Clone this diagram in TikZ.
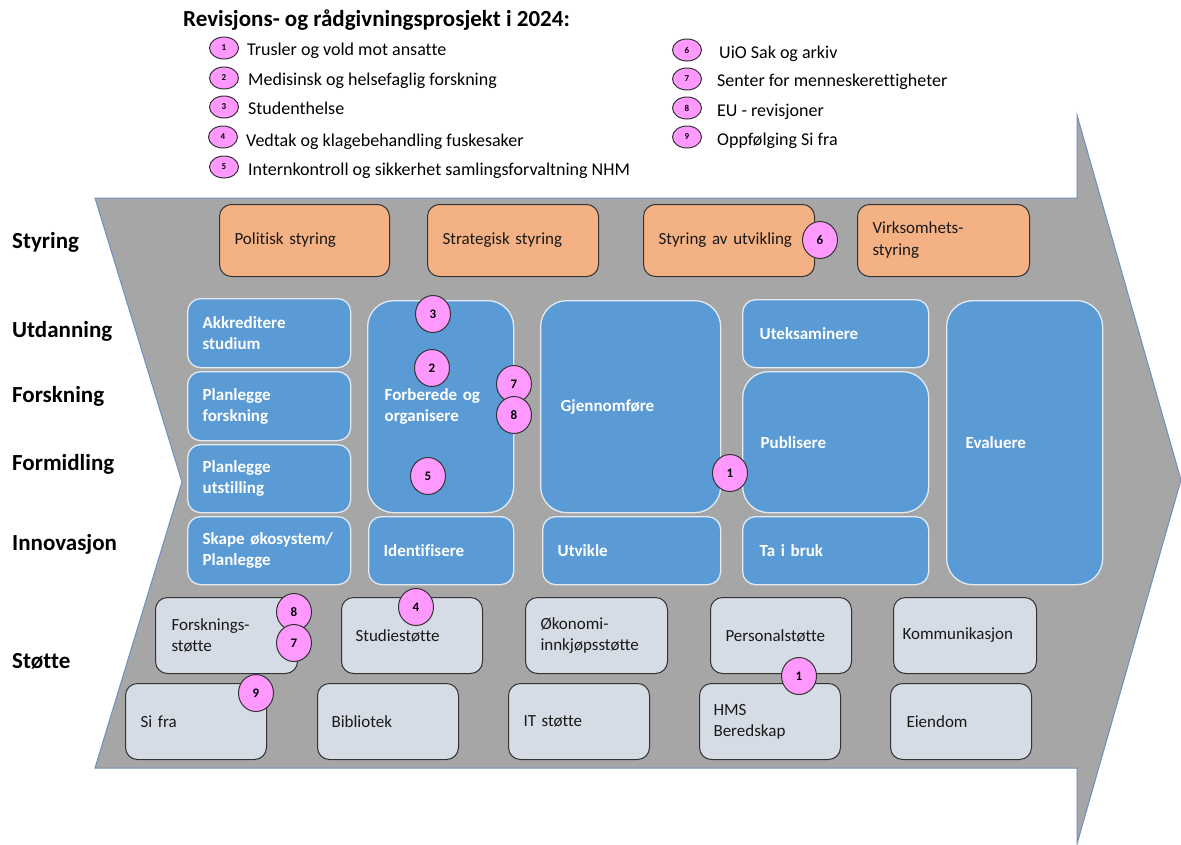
\documentclass[tikz,border=0pt]{standalone}
\usepackage{fontspec}
\setmainfont{Carlito}[Ligatures=NoCommon]
\usetikzlibrary{shapes.geometric}
\definecolor{arrowgray}{HTML}{A6A6A6}
\definecolor{arrowline}{HTML}{6F8FBF}
\definecolor{orng}{HTML}{F4B183}
\definecolor{blu}{HTML}{5B9BD5}
\definecolor{bluline}{HTML}{E2EAF3}
\definecolor{suppfill}{HTML}{D6DCE5}
\definecolor{pnk}{HTML}{FF99FF}
\definecolor{darkline}{HTML}{333333}
\newcommand\mkbox[8]{%
  \pgfmathsetmacro\mytw{#5-2*#7}%
  \node[#2, anchor=north west, minimum width=#5pt, minimum height=#6pt,
        text width=\mytw pt, inner xsep=#7pt, inner ysep=0pt, align=left] (#1) at (#3,#4) {#8};}
\tikzset{
  obox/.style={fill=orng, draw=darkline, line width=1pt, rounded corners=12pt,
               font=\fontsize{17}{22}\selectfont, text=black!90},
  bbox/.style={fill=blu, draw=bluline, line width=1.3pt, rounded corners=13pt,
               font=\bfseries\fontsize{17}{21}\selectfont, text=white},
  bigbox/.style={bbox, rounded corners=26pt},
  sbox/.style={fill=suppfill, draw=darkline, line width=1pt, rounded corners=12pt,
               font=\fontsize{17}{21}\selectfont, text=black!90},
  pc/.style={ellipse, fill=pnk, draw=darkline, line width=1pt, minimum width=35pt,
             minimum height=37pt, inner sep=0pt, font=\bfseries\fontsize{13}{13}\selectfont},
  lc/.style={ellipse, fill=pnk, draw=darkline, line width=1pt, minimum width=29pt,
             minimum height=22pt, inner sep=0pt, font=\bfseries\fontsize{9}{9}\selectfont},
  rowlab/.style={anchor=west, font=\bfseries\fontsize{23}{23}\selectfont, inner sep=0pt,
                 text height=15.5pt, text depth=5pt},
  legtxt/.style={anchor=base west, font=\fontsize{18}{18}\selectfont, inner sep=0pt},
  arrowbody/.style={fill=arrowgray, draw=arrowline, line width=1pt}
}
\begin{document}
\begin{tikzpicture}[x=1pt,y=-1pt]
\useasboundingbox (0,0) rectangle (1181,844);
% big arrow
\draw[arrowbody] (95,198) -- (1077,198) -- (1077,115) -- (1181,480) -- (1077,844)
   -- (1077,768) -- (95,768) -- (182,482) -- cycle;
% title and legend
\node[anchor=base west, font=\bfseries\fontsize{23}{23}\selectfont, inner sep=0pt] (title) at (183,26) {Revisjons- og rådgivningsprosjekt i 2024:};
\node[lc] (l1) at (224,48) {1};
\node[lc] (l2) at (224,78) {2};
\node[lc] (l3) at (224,107) {3};
\node[lc] (l4) at (223,137) {4};
\node[lc] (l5) at (224,167) {5};
\node[legtxt] (t1) at (247,55) {Trusler og vold mot ansatte};
\node[legtxt] (t2) at (248,85) {Medisinsk og helsefaglig forskning};
\node[legtxt] (t3) at (248,114) {Studenthelse};
\node[legtxt] (t4) at (246,146) {Vedtak og klagebehandling fuskesaker};
\node[legtxt] (t5) at (248,175) {Internkontroll og sikkerhet samlingsforvaltning NHM};
\node[lc] (l6) at (687,50) {6};
\node[lc] (l7) at (687,79) {7};
\node[lc] (l8) at (687,108) {8};
\node[lc] (l9) at (687,137) {9};
\node[legtxt] (t6) at (719,58) {UiO Sak og arkiv};
\node[legtxt] (t7) at (717,86) {Senter for menneskerettigheter};
\node[legtxt] (t8) at (717,116) {EU - revisjoner};
\node[legtxt] (t9) at (717,145) {Oppfølging Si fra};
% row labels
\node[rowlab] (rs) at (12,243) {Styring};
\node[rowlab] (ru) at (12,332) {Utdanning};
\node[rowlab] (rf) at (12,397) {Forskning};
\node[rowlab] (rm) at (12,465) {Formidling};
\node[rowlab] (ri) at (12,545) {Innovasjon};
\node[rowlab] (rst) at (12,663) {Støtte};
% styring
\mkbox{pol}{obox}{219}{204}{170}{72}{15}{Politisk styring}
\mkbox{str}{obox}{427}{204}{171}{72}{15}{Strategisk styring}
\mkbox{sau}{obox}{643}{204}{171}{72}{15}{Styring av utvikling}
\mkbox{vir}{obox}{857}{204}{172}{72}{15}{Virksomhets-\\styring}
% core
\mkbox{akk}{bbox}{187}{298}{163}{69}{15}{Akkreditere\\studium}
\mkbox{plf}{bbox}{187}{371}{163}{69}{15}{Planlegge\\forskning}
\mkbox{plu}{bbox}{187}{444}{163}{68}{15}{Planlegge\\utstilling}
\mkbox{ska}{bbox}{187}{516}{163}{68}{15}{Skape økosystem/\\Planlegge}
\mkbox{for}{bigbox}{367}{300}{146}{212}{17}{Forberede og\\organisere}
\mkbox{ide}{bbox}{368}{516}{145}{68}{15}{Identifisere}
\mkbox{gje}{bigbox}{540}{300}{180}{212}{20}{Gjennomføre}
\mkbox{utv}{bbox}{542}{516}{178}{68}{15}{Utvikle}
\mkbox{ute}{bbox}{742}{299}{186}{68}{17}{Uteksaminere}
\mkbox{pub}{bigbox}{742}{371}{186}{141}{18}{Publisere}
\mkbox{tib}{bbox}{742}{516}{186}{68}{17}{Ta i bruk}
\mkbox{eva}{bigbox}{946}{300}{156}{284}{19}{Evaluere}
% support
\mkbox{fst}{sbox}{155}{597}{142}{76}{16}{Forsknings-\\støtte}
\mkbox{sst}{sbox}{341}{597}{141}{76}{14}{Studiestøtte}
\mkbox{oko}{sbox}{525}{597}{142}{76}{15}{Økonomi-\\innkjøpsstøtte}
\mkbox{per}{sbox}{710}{597}{141}{76}{15}{Personalstøtte}
\mkbox{kom}{sbox}{893}{597}{143}{76}{9}{Kommunikasjon}
\mkbox{sif}{sbox}{125}{683}{141}{76}{15}{Si fra}
\mkbox{bib}{sbox}{317}{683}{141}{76}{14}{Bibliotek}
\mkbox{its}{sbox}{508}{683}{141}{76}{15}{IT støtte}
\mkbox{hms}{sbox}{699}{683}{141}{76}{14}{HMS\\Beredskap}
\mkbox{eie}{sbox}{890}{683}{141}{76}{16}{Eiendom}
% markers
\node[pc] (m3) at (433,314) {3};
\node[pc] (m2) at (432,368) {2};
\node[pc] (m7a) at (514,384) {7};
\node[pc] (m8a) at (514,415) {8};
\node[pc] (m5) at (428,476) {5};
\node[pc] (m6) at (820,240) {6};
\node[pc] (m1a) at (730,473) {1};
\node[pc] (m8b) at (294,612) {8};
\node[pc] (m7b) at (294,643) {7};
\node[pc] (m4) at (416,607) {4};
\node[pc] (m9) at (256,693) {9};
\node[pc] (m1b) at (799,676) {1};
\end{tikzpicture}
\end{document}
